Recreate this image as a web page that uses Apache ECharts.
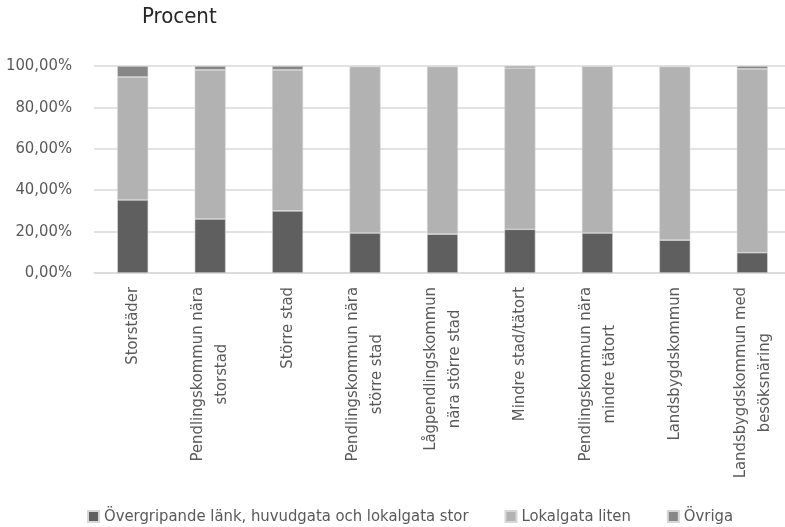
<!DOCTYPE html>
<html><head><meta charset="utf-8">
<script src="https://cdn.jsdelivr.net/npm/echarts@6/dist/echarts.min.js"></script>
<style>html,body{margin:0;padding:0;background:#fff}#c{width:785px;height:527px}</style>
</head><body><div id="c"></div>
<script>
const categories = ["Storstäder","Pendlingskommun nära\nstorstad","Större stad","Pendlingskommun nära\nstörre stad","Lågpendlingskommun\nnära större stad","Mindre stad/tätort","Pendlingskommun nära\nmindre tätort","Landsbygdskommun","Landsbygdskommun med\nbesöksnäring"];
const seriesNames = ["Övergripande länk, huvudgata och lokalgata stor","Lokalgata liten","Övriga"];
const storValues = [35.3, 26.1, 30.0, 19.3, 18.8, 21.1, 19.3, 15.9, 9.8];
const litenValues = [59.4, 72.0, 68.1, 80.4, 80.9, 77.9, 80.6, 83.8, 88.8];
const ovrigaValues = [5.3, 1.9, 1.9, 0.3, 0.3, 1.0, 0.1, 0.3, 1.4];
const yTicks = [0, 20, 40, 60, 80, 100];

const FONT = "'DejaVu Sans Condensed',sans-serif";
const FS = 16.5;
const colors = ['#5f5f5f', '#b2b2b2', '#878787'];
const chart = echarts.init(document.getElementById('c'), null, {renderer: 'canvas'});
const mk = (name, data, color) => ({
  name, type: 'bar', stack: 'a', data, barWidth: 31,
  itemStyle: {color, borderColor: '#d6d6d6', borderWidth: 0.6},
  emphasis: {disabled: true}
});
chart.setOption({
  animation: false,
  title: {text: 'Procent', left: 137, top: 1, textStyle: {fontFamily: FONT, fontSize: 22, fontWeight: 'normal', color: '#262626'}},
  grid: {left: 94, right: -6, top: 66, height: 207, outerBoundsMode: 'none', containLabel: false},
  legend: {
    top: 503, left: 82, itemWidth: 11, itemHeight: 11, itemGap: 36, icon: 'rect',
    textStyle: {fontFamily: FONT, fontSize: FS, color: '#595959'},
    data: seriesNames
  },
  xAxis: {
    type: 'category', data: categories,
    axisLine: {lineStyle: {color: '#d9d9d9', width: 1.5}},
    axisTick: {show: false},
    axisLabel: {
      rotate: 90, interval: 0, margin: 14,
      fontFamily: FONT, fontSize: FS, color: '#595959', lineHeight: 24,
      formatter: v => v.split('\n').map(s => '{a|' + s + '}').join('\n'),
      rich: {a: {align: 'center', fontFamily: FONT, fontSize: FS, color: '#595959', lineHeight: 24}}
    }
  },
  yAxis: {
    type: 'value', min: yTicks[0], max: yTicks[yTicks.length-1], interval: 20,
    splitLine: {lineStyle: {color: '#d9d9d9', width: 1.5}},
    axisLine: {show: false}, axisTick: {show: false},
    axisLabel: {fontFamily: FONT, fontSize: FS, color: '#595959', margin: 22,
      formatter: v => v.toFixed(2).replace('.', ',') + '%'}
  },
  series: [mk(seriesNames[0], storValues, colors[0]), mk(seriesNames[1], litenValues, colors[1]), mk(seriesNames[2], ovrigaValues, colors[2])]
});
</script></body></html>
